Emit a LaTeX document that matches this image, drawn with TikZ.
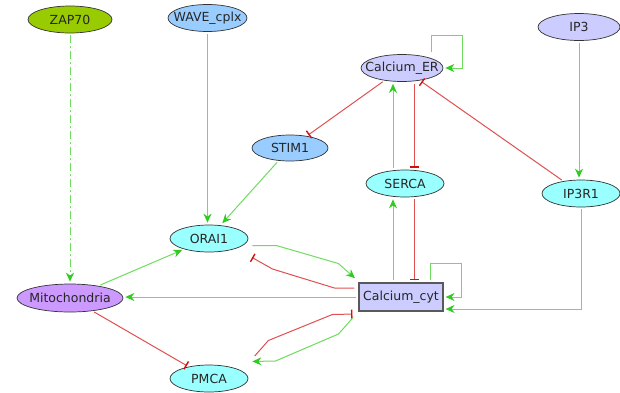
\documentclass[tikz,border=0pt]{standalone}
\usepackage{fontspec}
\setmainfont{DejaVu Sans}
\usetikzlibrary{arrows.meta,shapes.geometric,calc}
\definecolor{NetGreen}{HTML}{6FDC5F}
\definecolor{NetGreenTip}{HTML}{2ECC1E}
\definecolor{NetRed}{HTML}{E05050}
\definecolor{NetRedTip}{HTML}{D01010}
\definecolor{NetLime}{HTML}{99CC00}
\definecolor{NetSky}{HTML}{99CCFF}
\definecolor{NetLilac}{HTML}{CCCCFF}
\definecolor{NetCyan}{HTML}{99FFFF}
\definecolor{NetViolet}{HTML}{CC99FF}
\tikzset{
  act/.style={-{Stealth[length=9pt,width=8pt,color=NetGreenTip]}, line width=1pt, draw=NetGreen,
              shorten >=2pt, shorten <=2pt},
  inh/.style={-{Bar[width=9pt,line width=1.4pt,color=NetRedTip]}, line width=1pt, draw=NetRed,
              shorten >=2pt, shorten <=2pt},
  sp/.style={ellipse, draw=black!80, line width=0.7pt, inner sep=0pt, minimum height=27pt,
             text=black!85, execute at begin node={\hbox to 0pt\bgroup\hss},
             execute at end node={\hss\egroup}},
  pool/.style={rectangle, draw=black!65, fill=NetLilac, line width=1.1pt, inner sep=0pt,
               minimum width=84pt, minimum height=28pt, text=black!85},
}
\begin{document}
\begin{tikzpicture}[x=1pt,y=-1pt,font={\fontsize{12.5pt}{14pt}\selectfont}]
  \useasboundingbox[fill=white] (0,0) rectangle (620,392);
  \node[sp,fill=NetLime,minimum width=84pt] (zap) at (70,19.5) {ZAP70};
  \node[sp,fill=NetSky,minimum width=79pt] (wave) at (207.5,18) {WAVE\_cplx};
  \node[sp,fill=NetSky,minimum width=76pt,minimum height=26pt] (stim) at (290,148) {STIM1};
  \node[sp,fill=NetLilac,minimum width=82pt] (caer) at (402,68) {Calcium\_ER};
  \node[sp,fill=NetLilac,minimum width=82pt] (ip3) at (579,27) {IP3};
  \node[sp,fill=NetCyan,minimum width=78pt] (serca) at (405,183.5) {SERCA};
  \node[sp,fill=NetCyan,minimum width=78pt] (ipr) at (581,193.5) {IP3R1};
  \node[sp,fill=NetCyan,minimum width=78pt] (orai) at (209,238.5) {ORAI1};
  \node[sp,fill=NetViolet,minimum width=106pt,minimum height=28pt] (mito) at (70,298) {Mitochondria};
  \node[sp,fill=NetCyan,minimum width=78pt] (pmca) at (209,378.5) {PMCA};
  \node[pool] (cacyt) at (401,297) {Calcium\_cyt};

  \draw[act,dash pattern=on 8pt off 3pt on 2pt off 3pt] (zap) -- (mito);
  \draw[act] (wave) -- (wave |- orai.north);
  \draw[act] (stim) -- ([xshift=12pt]orai.north);
  \draw[inh] (caer) -- (stim);
  \draw[act] ([xshift=29pt]caer.north) -- ++(0,-19) -- ++(31,0) |- (caer.east);
  \draw[act] ([xshift=-12pt]serca.north) -- ([xshift=-12pt]serca.north |- caer.south);
  \draw[inh] ([xshift=12pt]caer.south) -- ([xshift=12pt]caer.south |- serca.north);
  \draw[inh] (ipr) -- (caer);
  \draw[act] (ip3) -- (ip3 |- ipr.north);
  \draw[act] ([xshift=-8pt]cacyt.north) -- ([xshift=-8pt]cacyt.north |- serca.south);
  \draw[inh] ([xshift=9pt]serca.south) -- ([xshift=9pt]serca.south |- cacyt.north);
  \draw[act] ([xshift=29pt]cacyt.north) -- ++(0,-19) -- ++(31,0) |- (cacyt.east);
  \draw[act] (ipr.south) |- ([yshift=-12pt]cacyt.east);
  \draw[act] ($(orai.east)+(2,7)$) -- ++(26,0) -- ++(62,18) -- ($(cacyt.north west)+(-2,-3)$);
  \draw[inh] ($(cacyt.west)+(-2,-9)$) -- ++(-22,0) -- ++(-62,-19) -- ($(orai.east)+(2,18)$);
  \draw[act] (cacyt.west) -- (cacyt.west -| mito.east);
  \draw[act] (mito) -- (orai);
  \draw[inh] (mito) -- (pmca);
  \draw[inh] ($(pmca.east)+(5,-21)$) -- ++(15,-17) -- ++(64,-26) -- ($(cacyt.west)+(-4,17)$);
  \draw[act] ($(cacyt.west)+(-4,19)$) -- ++(-16,18) -- ++(-63,27) -- ($(pmca.east)+(2,-17)$);
\end{tikzpicture}
\end{document}
